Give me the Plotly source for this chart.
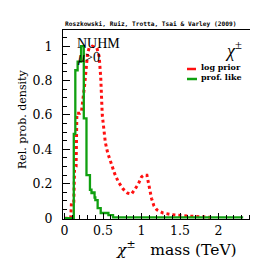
import plotly.graph_objects as go

# prof. like (green, step histogram: left bin edges and values)
like_x = [0.0, 0.12, 0.14, 0.17, 0.215, 0.25, 0.285, 0.33, 0.35, 0.37, 0.39, 0.40, 0.43, 0.47, 0.57, 0.63, 2.32]
like_y = [0.0, 0.49, 0.86, 0.91, 1.0, 0.58, 0.25, 0.165, 0.145, 0.15, 0.12, 0.105, 0.058, 0.03, 0.017, 0.005, 0.005]

# log prior (red, dotted)
prior_x = [0.0, 0.08, 0.09, 0.12, 0.13, 0.15, 0.16, 0.2, 0.22, 0.26, 0.3, 0.32, 0.36, 0.42, 0.45,
           0.47, 0.49, 0.51, 0.53, 0.56, 0.6, 0.65, 0.7, 0.76, 0.82, 0.87, 0.91, 0.96, 1.0, 1.03,
           1.07, 1.09, 1.11, 1.13, 1.16, 1.2, 1.28, 1.4, 1.6, 1.8, 1.9]
prior_y = [0.0, 0.0, 0.09, 0.09, 0.28, 0.3, 0.61, 0.61, 0.62, 0.77, 0.96, 0.99, 1.0, 0.99, 0.94,
           0.82, 0.6, 0.5, 0.44, 0.38, 0.32, 0.26, 0.21, 0.17, 0.145, 0.14, 0.165, 0.2, 0.24, 0.25,
           0.25, 0.2, 0.155, 0.115, 0.073, 0.048, 0.03, 0.02, 0.012, 0.008, 0.005]

x_ticks = [0, 0.5, 1, 1.5, 2]
y_ticks = [0, 0.2, 0.4, 0.6, 0.8, 1]

RED = "#ff1010"
GREEN = "#10a010"
SERIF = "DejaVu Serif"

L, R, T, B = 55, 14, 22, 47
PW, PH = 258 - L - R, 258 - T - B

fig = go.Figure()
fig.add_trace(go.Scatter(x=prior_x, y=prior_y, mode="lines", name="log prior",
                         line=dict(color=RED, width=3, dash="dot"), showlegend=False))
fig.add_trace(go.Scatter(x=like_x, y=like_y, mode="lines", name="prof. like",
                         line=dict(color=GREEN, width=2.3, shape="hv"), showlegend=False))

fig.update_layout(
    width=258, height=258,
    margin=dict(l=L, r=R, t=T, b=B, autoexpand=False),
    paper_bgcolor="white", plot_bgcolor="white",
    xaxis=dict(range=[-0.02, 2.435], tickvals=x_ticks, ticktext=[str(v) for v in x_ticks],
               ticks="inside", ticklen=6, tickcolor="black", showgrid=False, zeroline=False,
               showline=True, linecolor="black", linewidth=1, mirror=True, automargin=False,
               tickfont=dict(family=SERIF, size=12.5, color="black"),
               minor=dict(dtick=0.1, ticks="inside", ticklen=4, tickcolor="black")),
    yaxis=dict(range=[-0.005, 1.094], tickvals=y_ticks,
               ticks="inside", ticklen=7, tickcolor="black", showgrid=False, zeroline=False,
               showline=True, linecolor="black", linewidth=1, mirror=True, automargin=False,
               ticklabelstandoff=7,
               tickfont=dict(family=SERIF, size=12.5, color="black"),
               minor=dict(dtick=0.05, ticks="inside", ticklen=4, tickcolor="black")),
)

def px(xp):
    return (xp - L) / PW

def py(yp):
    return (258 - B - yp) / PH

anns = [
    dict(text="<b>Roszkowski, Ruiz, Trotta, Tsai &amp; Varley (2009)</b>", x=55, y=16,
         font=dict(family="DejaVu Sans Mono", size=6.2, color="black"), xanchor="left"),
    dict(text="NUHM", x=67, y=35, font=dict(family="Liberation Serif", size=14, color="black"), xanchor="left"),
    dict(text="<i>μ</i>>0", x=67, y=49, font=dict(family="Liberation Serif", size=14, color="black"), xanchor="left"),
    dict(text="<i>χ</i><sup>±</sup>", x=215, y=41, font=dict(family="Liberation Serif", size=18, color="black"), xanchor="left"),
    dict(text="<b>log prior</b>", x=191, y=59, font=dict(family=SERIF, size=8, color="black"), xanchor="left"),
    dict(text="<b>prof. like</b>", x=191, y=69, font=dict(family=SERIF, size=8, color="black"), xanchor="left"),
    dict(text="<i>χ</i><sup>±</sup>   mass (TeV)", x=168, y=241, font=dict(family=SERIF, size=15.5, color="black"), xanchor="center"),
]
for a in anns:
    fig.add_annotation(xref="paper", yref="paper", showarrow=False, yanchor="middle",
                       x=px(a["x"]), y=py(a["y"]),
                       text=a["text"], font=a["font"], xanchor=a["xanchor"])

fig.add_annotation(xref="paper", yref="paper", showarrow=False, x=px(14), y=py(112),
                   xanchor="center", yanchor="middle", textangle=-90,
                   text="Rel. prob. density", font=dict(family=SERIF, size=11, color="black"))

fig.add_shape(type="line", xref="paper", yref="paper", x0=px(179), x1=px(189),
              y0=py(61), y1=py(61), line=dict(color=RED, width=2.5, dash="dash"))
fig.add_shape(type="line", xref="paper", yref="paper", x0=px(179), x1=px(189),
              y0=py(71), y1=py(71), line=dict(color=GREEN, width=2.5))

fig.write_html("out.html")
